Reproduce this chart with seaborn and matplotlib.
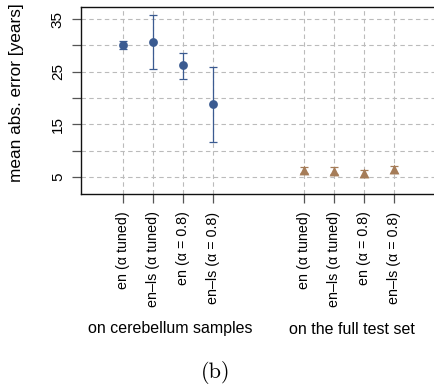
import matplotlib
matplotlib.use("Agg")
import matplotlib.pyplot as plt
import seaborn as sns
import pandas as pd
import numpy as np

sns.set_style("white")
plt.rcParams['font.family'] = ['Liberation Sans', 'DejaVu Sans']
plt.rcParams['text.color'] = 'black'
plt.rcParams['xtick.color'] = 'black'
plt.rcParams['ytick.color'] = 'black'

methods = ["en (\u03b1 tuned)", "en\u2013ls (\u03b1 tuned)", "en (\u03b1 = 0.8)", "en\u2013ls (\u03b1 = 0.8)"]
groups = ["on cerebellum samples", "on the full test set"]
positions_cereb = [1, 2, 3, 4]
positions_full = [7, 8, 9, 10]

cereb_mean = [30.1, 30.6, 26.2, 18.8]
cereb_lo = [29.4, 25.5, 23.7, 11.6]
cereb_hi = [30.8, 35.8, 28.5, 25.9]

full_mean = [6.3, 6.1, 5.7, 6.5]
full_lo = [5.7, 5.5, 4.9, 5.8]
full_hi = [6.9, 6.8, 6.4, 7.1]

blue = "#3b5b91"
brown = "#a57c58"

df_c = pd.DataFrame({"pos": positions_cereb, "mae": cereb_mean})
df_f = pd.DataFrame({"pos": positions_full, "mae": full_mean})

fig = plt.figure(figsize=(4.35, 3.92), dpi=100)
ax = fig.add_axes([0.186, 0.505, 0.83, 0.477])

# grid
ax.set_axisbelow(True)
for y in range(5, 40, 5):
    ax.axhline(y, color="#bbbbbb", lw=0.8, ls=(0, (4, 3)), zorder=0)
for x in positions_cereb + positions_full:
    ax.axvline(x, color="#bbbbbb", lw=0.8, ls=(0, (4, 3)), zorder=0)

ax.errorbar(positions_cereb, cereb_mean,
            yerr=[np.array(cereb_mean) - np.array(cereb_lo), np.array(cereb_hi) - np.array(cereb_mean)],
            fmt="none", ecolor=blue, elinewidth=0.9, capsize=3, capthick=0.9, zorder=2)
ax.errorbar(positions_full, full_mean,
            yerr=[np.array(full_mean) - np.array(full_lo), np.array(full_hi) - np.array(full_mean)],
            fmt="none", ecolor=brown, elinewidth=0.9, capsize=3, capthick=0.9, zorder=2)

sns.scatterplot(data=df_c, x="pos", y="mae", ax=ax, color=blue, marker="o", s=40, edgecolor=blue, linewidth=0, zorder=3)
sns.scatterplot(data=df_f, x="pos", y="mae", ax=ax, color=brown, marker="^", s=50, edgecolor=brown, linewidth=0, zorder=3)

ax.set_xlim(-0.41, 11.6)
ax.set_ylim(1.75, 37.3)

ax.set_yticks([5, 10, 15, 20, 25, 30, 35])
ax.set_yticklabels(["5", "", "15", "", "25", "", "35"], rotation=90, va="center", fontsize=11)
ax.set_xticks(positions_cereb + positions_full)
ax.set_xticklabels(methods + methods, rotation=90, fontsize=10.3, va="top", ha="center")
ax.tick_params(axis="both", direction="out", length=6.5, width=0.9, color="#555555",
               labelcolor="black", left=True, bottom=True)
ax.tick_params(axis="y", pad=5)
ax.tick_params(axis="x", pad=6)

ax.set_xlabel("")
ax.set_ylabel("")
fig.text(17 / 435, 1 - 93 / 392, "mean abs. error [years]", rotation=90, ha="center", va="center",
         fontsize=12.4, color="black")

for s in ["left", "bottom", "top"]:
    ax.spines[s].set_visible(True)
    ax.spines[s].set_color("#111111")
    ax.spines[s].set_linewidth(1.0)
ax.spines["right"].set_visible(False)

fig.text(170 / 435, 1 - 329 / 392, groups[0], ha="center", va="center", fontsize=11.5, color="black")
fig.text(352 / 435, 1 - 329 / 392, groups[1], ha="center", va="center", fontsize=11.5, color="black")

fig.text(216 / 435, 1 - 372 / 392, "(b)", ha="center", va="center", fontsize=16, color="black",
         family=["cmr10", "DejaVu Serif"])

fig.savefig("out.png", dpi=100)
